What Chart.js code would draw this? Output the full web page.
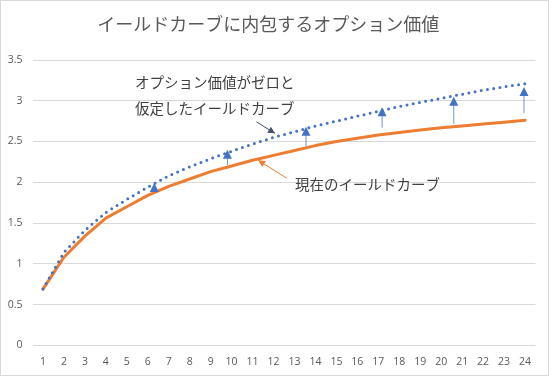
<!doctype html>
<html lang="ja">
<head>
<meta charset="utf-8">
<title>イールドカーブに内包するオプション価値</title>
<script src="https://cdn.jsdelivr.net/npm/chart.js"></script>
<style>
  html, body { margin: 0; padding: 0; background: #fff; }
  #box {
    position: absolute; left: 0; top: 0;
    width: 549px; height: 376px;
    box-sizing: border-box;
    border: 1px solid #d9d9d9;
    background: #fff;
  }
</style>
</head>
<body>
<div id="box"><canvas id="yieldChart"></canvas></div>
<script>
// 年限（カテゴリ）
const years = ['1','2','3','4','5','6','7','8','9','10','11','12',
               '13','14','15','16','17','18','19','20','21','22','23','24'];
// 現在のイールドカーブ
const currentCurve = [0.69, 1.08, 1.34, 1.56, 1.70, 1.84, 1.95, 2.04, 2.13, 2.20, 2.27, 2.33,
                      2.39, 2.45, 2.50, 2.54, 2.58, 2.61, 2.64, 2.67, 2.69, 2.715, 2.735, 2.76];
// オプション価値がゼロと仮定したイールドカーブ
const zeroOptionCurve = [0.69, 1.14, 1.41, 1.63, 1.79, 1.94, 2.08, 2.19, 2.29, 2.38, 2.47, 2.55,
                         2.62, 2.69, 2.75, 2.81, 2.87, 2.93, 2.98, 3.03, 3.08, 3.13, 3.17, 3.21];
// 上向き矢印（位置は年限、下端・上端は値）
const arrowAt   = [6.31, 9.8, 13.55, 17.18, 20.6, 23.95];
const arrowFrom = [1.88, 2.21, 2.44, 2.67, 2.72, 2.85];
const arrowTo   = [1.99, 2.40, 2.68, 2.92, 3.05, 3.17];
// 目盛り
const yTicks = [0, 0.5, 1, 1.5, 2, 2.5, 3, 3.5];

const blue = '#4472C4';
const orange = '#ED7D31';
const textGray = '#595959';

// 矢印と注記を描くプラグイン（座標は軸から求める）
const notes = {
  id: 'notes',
  afterDatasetsDraw(chart) {
    const c = chart.ctx, xs = chart.scales.x, ys = chart.scales.y;
    const px = v => xs.getPixelForValue(v - 1);
    const py = v => ys.getPixelForValue(v);

    function head(x1, y1, x2, y2, size, color) {
      const a = Math.atan2(y2 - y1, x2 - x1);
      c.fillStyle = color;
      c.beginPath();
      c.moveTo(x2, y2);
      c.lineTo(x2 - size * Math.cos(a) + size * 0.5 * Math.sin(a), y2 - size * Math.sin(a) - size * 0.5 * Math.cos(a));
      c.lineTo(x2 - size * Math.cos(a) - size * 0.5 * Math.sin(a), y2 - size * Math.sin(a) + size * 0.5 * Math.cos(a));
      c.closePath();
      c.fill();
    }
    function pointer(x1, y1, x2, y2, color, size) {
      c.strokeStyle = color;
      c.lineWidth = 1;
      c.beginPath();
      c.moveTo(x1, y1);
      c.lineTo(x2, y2);
      c.stroke();
      head(x1, y1, x2, y2, size, color);
    }

    c.save();
    arrowAt.forEach((a, i) => {
      const x = px(a), y1 = py(arrowFrom[i]), y2 = py(arrowTo[i]);
      c.strokeStyle = '#6F93D6';
      c.lineWidth = 1;
      c.beginPath();
      c.moveTo(x, y1);
      c.lineTo(x, y2 + 4);
      c.stroke();
      head(x, y1, x, y2, 9, blue);
    });

    // 注記の矢印
    pointer(px(11.19), py(2.74), px(12.07), py(2.60), '#44546A', 7);
    pointer(px(12.63), py(2.05), px(11.27), py(2.27), orange, 7);

    c.fillStyle = '#404040';
    c.font = '14.5px "Noto Sans CJK JP"';
    c.textAlign = 'left';
    c.textBaseline = 'middle';
    c.fillText('オプション価値がゼロと', px(5.39), py(3.22));
    c.fillText('仮定したイールドカーブ', px(5.39), py(2.91));
    c.fillText('現在のイールドカーブ', px(13.02), py(1.97));
    c.restore();
  }
};

const ctx = document.getElementById('yieldChart').getContext('2d');
new Chart(ctx, {
  type: 'line',
  data: {
    labels: years,
    datasets: [{
      label: 'オプション価値がゼロと仮定したイールドカーブ',
      data: zeroOptionCurve,
      borderColor: blue,
      borderWidth: 3,
      borderDash: [0, 6.3],
      borderCapStyle: 'round',
      pointRadius: 0,
      tension: 0
    }, {
      label: '現在のイールドカーブ',
      data: currentCurve,
      borderColor: orange,
      borderWidth: 3,
      borderCapStyle: 'round',
      borderJoinStyle: 'round',
      pointRadius: 0,
      tension: 0
    }]
  },
  options: {
    responsive: true,
    maintainAspectRatio: false,
    animation: false,
    layout: { padding: { left: 0, right: 12.5, top: 0, bottom: 0 } },
    plugins: {
      legend: { display: false },
      tooltip: { enabled: false },
      title: {
        display: true,
        text: 'イールドカーブに内包するオプション価値',
        color: textGray,
        font: { family: '"Noto Sans CJK JP"', size: 18, weight: 'normal', lineHeight: 1.2 },
        padding: { top: 12, bottom: 25.4 }
      }
    },
    scales: {
      x: {
        offset: true,
        grid: { display: false, drawTicks: false },
        border: { display: false },
        ticks: {
          color: textGray,
          font: { family: '"Open Sans"', size: 10.5 },
          padding: 10,
          maxRotation: 0,
          autoSkip: false
        },
        afterFit: s => { s.height = 29.7; }
      },
      y: {
        min: 0,
        max: 3.5,
        afterBuildTicks: s => { s.ticks = yTicks.map(v => ({ value: v })); },
        grid: { color: '#d9d9d9', lineWidth: 1, drawTicks: false },
        border: { display: false },
        ticks: {
          color: textGray,
          font: { family: '"Open Sans"', size: 10.5 },
          padding: 10,
          callback: v => String(v)
        },
        afterFit: s => { s.width = 31.5; }
      }
    }
  },
  plugins: [notes]
});
</script>
</body>
</html>
